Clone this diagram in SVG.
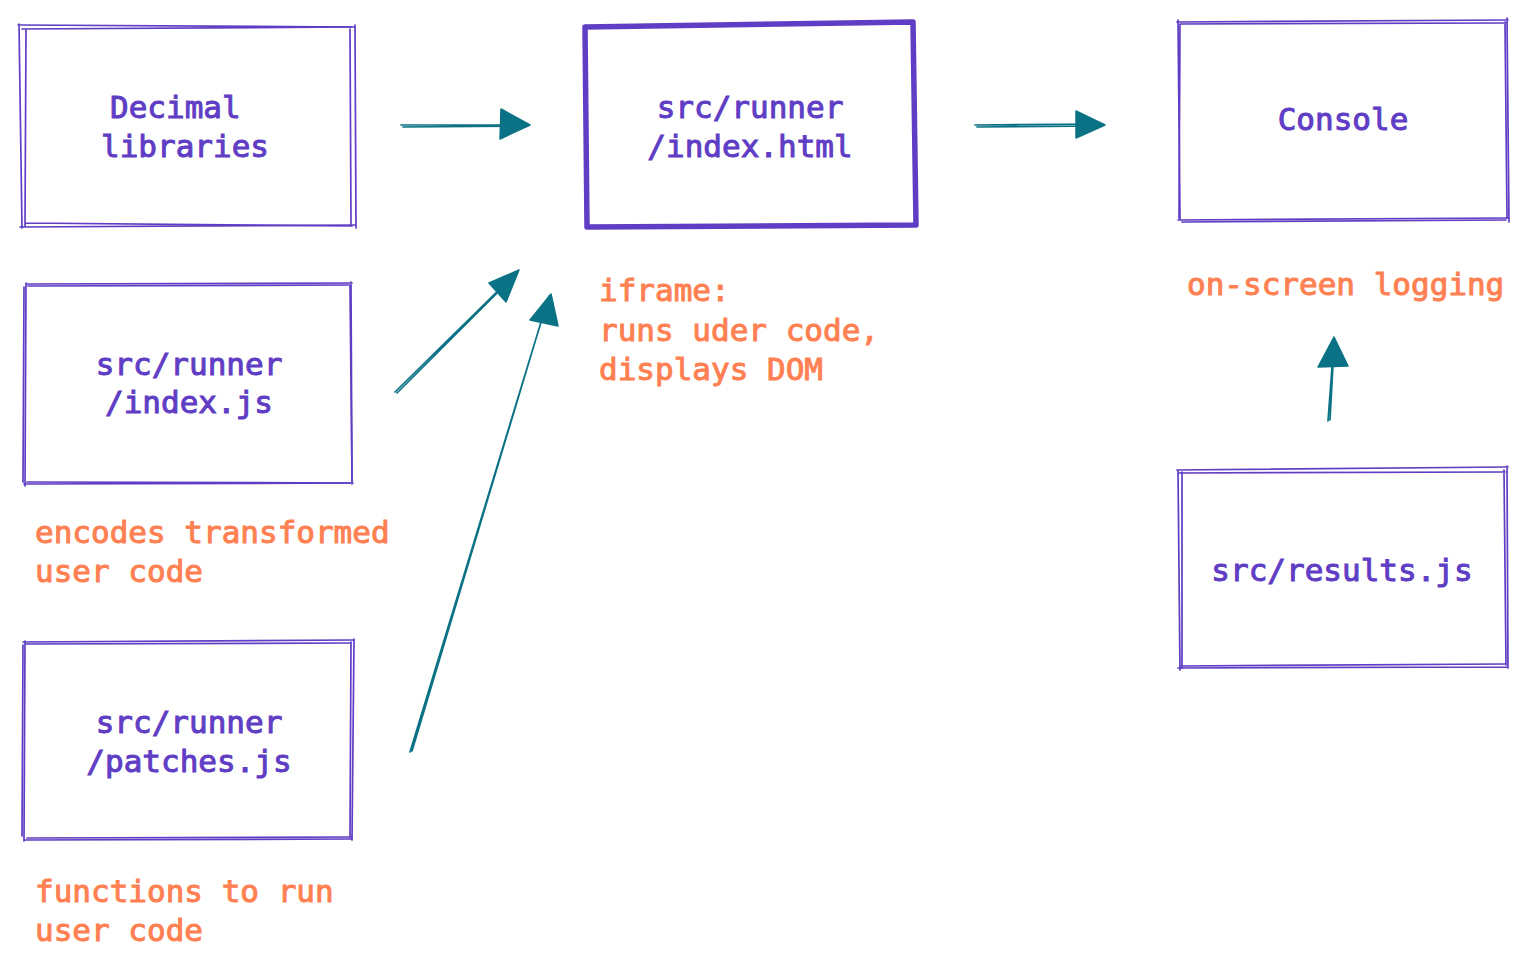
<svg xmlns="http://www.w3.org/2000/svg" width="1526" height="968" viewBox="0 0 1526 968">
<style>
.box{fill:none;stroke:#5f3dc4;stroke-width:1.7;stroke-linecap:round;stroke-linejoin:round}
.thick{fill:none;stroke:#5f3dc4;stroke-width:5.5;stroke-linecap:round;stroke-linejoin:round}
.lbl{font-family:"DejaVu Sans Mono","Liberation Mono",monospace;font-size:31px;fill:#5f3dc4;stroke:#5f3dc4;stroke-width:1}
.note{font-family:"DejaVu Sans Mono","Liberation Mono",monospace;font-size:31px;fill:#ff8052;stroke:#ff8052;stroke-width:1}
.shaft{fill:none;stroke:#0b7285;stroke-width:1.7;stroke-linecap:round}
.head{fill:#0b7285;stroke:#0b7285;stroke-width:1.5;stroke-linejoin:round}
</style>
<rect width="1526" height="968" fill="#ffffff"/>
<g id="decimal-libraries">
<path class="box" d="M18 25 L354 27 M355 25 L356 228 M355 225 L20 227 M22 228 L19 24"/>
<path class="box" d="M22 29 L351 27 M350 29 L351 225 M352 226 L25 223 M25 226 L26 30"/>
<text class="lbl" x="110" y="118">Decimal</text>
<text class="lbl" x="101" y="157">libraries</text>
</g>
<g id="runner-html">
<path class="thick" d="M585 27 L913 22 L916 225 L587 227 Z"/>
<text class="lbl" x="750" y="118" text-anchor="middle">src/runner</text>
<text class="lbl" x="750" y="157" text-anchor="middle">/index.html</text>
</g>
<g id="console">
<path class="box" d="M1177 22 L1508 20 M1507 18 L1509 222 M1508 218 L1178 220 M1180 219 L1178 20"/>
<path class="box" d="M1180 24 L1506 23 M1505 22 L1507 218 M1506 220 L1182 222 M1179 218 L1180 24"/>
<text class="lbl" x="1343" y="130" text-anchor="middle">Console</text>
</g>
<g id="runner-index-js">
<path class="box" d="M26 284 L352 283 M351 282 L352 484 M353 483 L24 484 M25 486 L26 283"/>
<path class="box" d="M28 286 L349 285 M350 286 L352 481 M350 483 L27 482 M23 482 L24 287"/>
<text class="lbl" x="189" y="375" text-anchor="middle">src/runner</text>
<text class="lbl" x="189" y="413" text-anchor="middle">/index.js</text>
</g>
<g id="runner-patches-js">
<path class="box" d="M23 642 L353 640 M354 639 L352 840 M351 839 L24 840 M24 841 L25 641"/>
<path class="box" d="M26 644 L350 643 M351 642 L350 838 M352 837 L27 838 M22 836 L23 645"/>
<text class="lbl" x="189" y="733" text-anchor="middle">src/runner</text>
<text class="lbl" x="189" y="772" text-anchor="middle">/patches.js</text>
</g>
<g id="results-js">
<path class="box" d="M1177 470 L1508 467 M1507 466 L1508 668 M1508 667 L1178 668 M1180 670 L1178 470"/>
<path class="box" d="M1179 473 L1505 472 M1504 470 L1506 665 M1505 664 L1181 666 M1182 668 L1182 472"/>
<text class="lbl" x="1342" y="581" text-anchor="middle">src/results.js</text>
</g>
<g id="notes">
<text class="note" x="599" y="301">iframe:</text>
<text class="note" x="599" y="341">runs uder code,</text>
<text class="note" x="599" y="380">displays DOM</text>
<text class="note" x="1187" y="295">on-screen logging</text>
<text class="note" x="35" y="543">encodes transformed</text>
<text class="note" x="35" y="582">user code</text>
<text class="note" x="35" y="902">functions to run</text>
<text class="note" x="35" y="941">user code</text>
</g>
<g id="connectors">
<path class="shaft" d="M401 125 L528 125 M403 127 L527 126"/>
<polygon class="head" points="530,125 501,109 500,139"/>
<path class="shaft" d="M975 125 L1103 124 M977 127 L1100 126"/>
<polygon class="head" points="1105,125 1076,111 1076,138"/>
<path class="shaft" d="M395 392 L517 272 M397 393 L514 276"/>
<polygon class="head" points="519,270 489,283 506,302"/>
<path class="shaft" d="M410 752 L549 296 M412 751 L547 302"/>
<polygon class="head" points="551,294 530,320 558,326"/>
<path class="shaft" d="M1328 421 L1334 340 M1330 420 L1334 346"/>
<polygon class="head" points="1334,337 1318,367 1348,366"/>
</g>
</svg>
